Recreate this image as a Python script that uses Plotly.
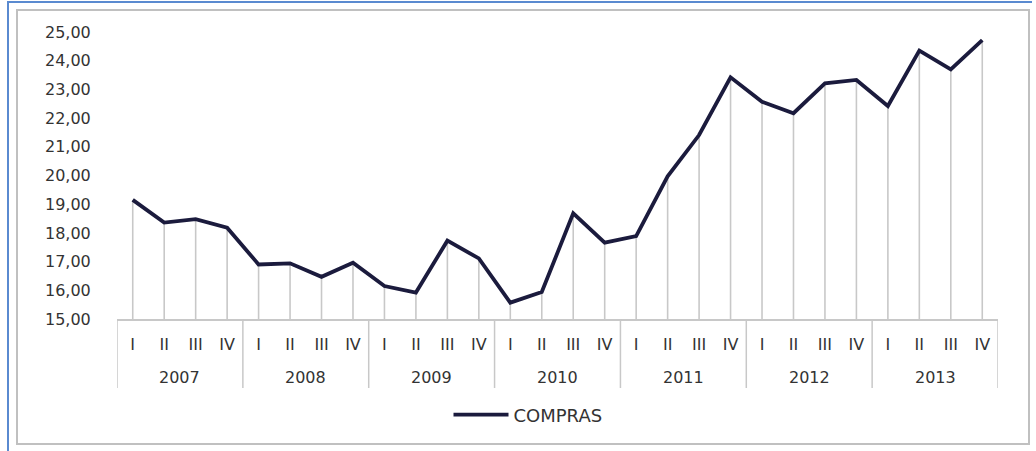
import plotly.graph_objects as go

# Quarterly purchase index, 2007-2013
years = ["2007", "2008", "2009", "2010", "2011", "2012", "2013"]
quarters = ["I", "II", "III", "IV"]
compras = [
    19.15, 18.36, 18.48, 18.18,   # 2007
    16.90, 16.94, 16.47, 16.96,   # 2008
    16.15, 15.92, 17.73, 17.11,   # 2009
    15.57, 15.94, 18.68, 17.66,   # 2010
    17.89, 19.97, 21.41, 23.42,   # 2011
    22.57, 22.17, 23.21, 23.33,   # 2012
    22.42, 24.35, 23.70, 24.72,   # 2013
]
y_min, y_max = 15, 25

periods = [f"{y} {q}" for y in years for q in quarters]
period_quarters = [q for _ in years for q in quarters]
nq = len(quarters)

W, H = 1036, 451
L, R, T, B = 117, 38, 32, 132
PW, PH = W - L - R, H - T - B


def px(x):
    return (x - L) / PW


def py(y):
    return (H - B - y) / PH


fig = go.Figure()

# drop lines from each point down to the category axis
fig.add_trace(go.Scatter(
    x=periods, y=compras, mode="markers",
    marker=dict(size=1, opacity=0), showlegend=False, hoverinfo="skip",
    error_y=dict(type="data", symmetric=False,
                 array=[0] * len(compras),
                 arrayminus=[v - y_min for v in compras],
                 color="#c8c8c8", thickness=1.6, width=0),
))

fig.add_trace(go.Scatter(
    x=periods, y=compras, mode="lines", name="COMPRAS",
    line=dict(color="#1b1b3d", width=3.8),
))

font_family = "DejaVu Sans, Verdana, sans-serif"
text_color = "#333333"
frame_grey = "#c8c8c8"

# year group labels and the dividers between year groups
year_labels = [
    dict(x=i * nq + (nq - 1) / 2, y=py(377), xref="x", yref="paper",
         text=yr, showarrow=False, xanchor="center", yanchor="middle",
         font=dict(size=16, color=text_color))
    for i, yr in enumerate(years)
]
dividers = [
    dict(type="line", xref="x", yref="paper",
         x0=i * nq - 0.5, x1=i * nq - 0.5, y0=py(388), y1=0,
         line=dict(color=frame_grey, width=1.5))
    for i in range(len(years) + 1)
]

frame = [
    # inner grey frame
    dict(type="rect", xref="paper", yref="paper",
         x0=px(17), x1=px(1029), y0=py(444), y1=py(10),
         line=dict(color="#c0c0c0", width=2), layer="below"),
    # outer blue edges
    dict(type="line", xref="paper", yref="paper",
         x0=px(8), x1=px(8), y0=py(451), y1=py(1),
         line=dict(color="#5a8ad0", width=2)),
    dict(type="line", xref="paper", yref="paper",
         x0=px(8), x1=px(1032), y0=py(2), y1=py(2),
         line=dict(color="#5a8ad0", width=2)),
]

fig.update_layout(
    width=W, height=H,
    margin=dict(l=L, r=R, t=T, b=B),
    paper_bgcolor="white", plot_bgcolor="white",
    separators=",.",
    font=dict(family=font_family, size=16, color=text_color),
    showlegend=True,
    legend=dict(orientation="h", x=px(528), y=py(415),
                xanchor="center", yanchor="middle",
                font=dict(size=18, color=text_color),
                itemwidth=55),
    xaxis=dict(
        type="category", range=[-0.5, len(periods) - 0.5],
        tickmode="array", tickvals=periods, ticktext=period_quarters,
        showgrid=False, zeroline=False,
        showline=True, linecolor=frame_grey, linewidth=1.5,
        ticks="outside", ticklen=10, tickcolor="rgba(0,0,0,0)",
        tickfont=dict(size=16, color=text_color),
    ),
    yaxis=dict(
        range=[y_min, y_max], dtick=1, tickformat=".2f",
        showgrid=False, zeroline=False, showline=False,
        ticks="outside", ticklen=22, tickcolor="rgba(0,0,0,0)",
        tickfont=dict(size=16, color=text_color),
    ),
    annotations=year_labels,
    shapes=frame + dividers,
)

fig.write_html("out.html")
